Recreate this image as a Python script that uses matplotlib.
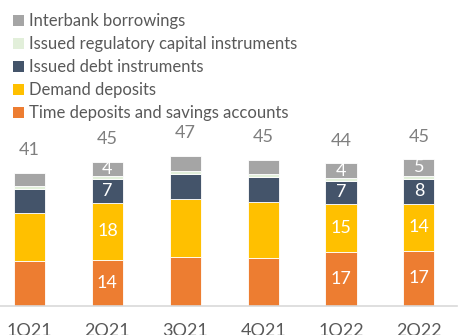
import numpy as np
import matplotlib.pyplot as plt
from matplotlib.patches import Patch

plt.rcParams['font.family'] = ['Lato', 'DejaVu Sans']

# datos
quarters = ["1Q21", "2Q21", "3Q21", "4Q21", "1Q22", "2Q22"]
time_dep = [14.0, 14.3, 15.2, 14.9, 16.8, 17.1]
demand_dep = [15.0, 17.8, 18.0, 17.4, 14.9, 14.6]
debt_instr = [7.4, 7.2, 7.8, 7.8, 7.1, 7.8]
reg_capital = [1.0, 1.0, 1.0, 1.0, 1.0, 1.0]
interbank = [4.0, 4.4, 4.7, 4.3, 4.5, 5.0]
totals = [41, 45, 47, 45, 44, 45]

# etiquetas visibles (None = sin etiqueta)
lbl_time = [None, "14", None, None, "17", "17"]
lbl_demand = [None, "18", None, None, "15", "14"]
lbl_debt = [None, "7", None, None, "7", "8"]
lbl_interbank = [None, "4", None, None, "4", "5"]

series = [
    ("Time deposits and savings accounts", time_dep, "#ED7D31", lbl_time),
    ("Demand deposits", demand_dep, "#FFC000", lbl_demand),
    ("Issued debt instruments", debt_instr, "#44546A", lbl_debt),
    ("Issued regulatory capital instruments", reg_capital, "#E2EFDA", None),
    ("Interbank borrowings", interbank, "#A5A5A5", lbl_interbank),
]

W, H = 470, 335
fig = plt.figure(figsize=(W / 100, H / 100), dpi=100)
ax = fig.add_axes([0, 29 / H, 457 / W, 306 / H])

x = np.arange(len(quarters))
bottom = np.zeros(len(quarters))
handles = []
for name, vals, color, lbls in series:
    vals = np.array(vals)
    ax.bar(x, vals, 0.4, bottom=bottom, color=color, edgecolor="white", linewidth=0.6)
    if lbls is not None:
        for i, t in enumerate(lbls):
            if t:
                ax.text(x[i], bottom[i] + vals[i] / 2, t, ha="center", va="center",
                        color="white", fontsize=13)
    bottom += vals
    handles.append(Patch(facecolor=color, label=name))

for i, t in enumerate(totals):
    ax.text(x[i], bottom[i] + 7, str(t), ha="center", va="center",
            color="#7F7F7F", fontsize=13)

ax.set_xlim(-0.38, 5.49)
ax.set_ylim(0, 95)
ax.set_xticks(x)
ax.set_xticklabels(quarters, fontsize=13, color="#595959")
ax.tick_params(axis="x", length=0, pad=12)
ax.set_yticks([])
for s in ["top", "right", "left"]:
    ax.spines[s].set_visible(False)
ax.spines["bottom"].set_color("#D9D9D9")
ax.spines["bottom"].set_linewidth(1.2)

fig.legend(handles=handles[::-1], loc="upper left", bbox_to_anchor=(0.0, 1.0),
           frameon=False, fontsize=12, labelcolor="#595959",
           handlelength=0.65, handleheight=0.65, handletextpad=0.3,
           labelspacing=0.42, borderaxespad=0.5, borderpad=0.3)

fig.savefig("out.png", dpi=100)
